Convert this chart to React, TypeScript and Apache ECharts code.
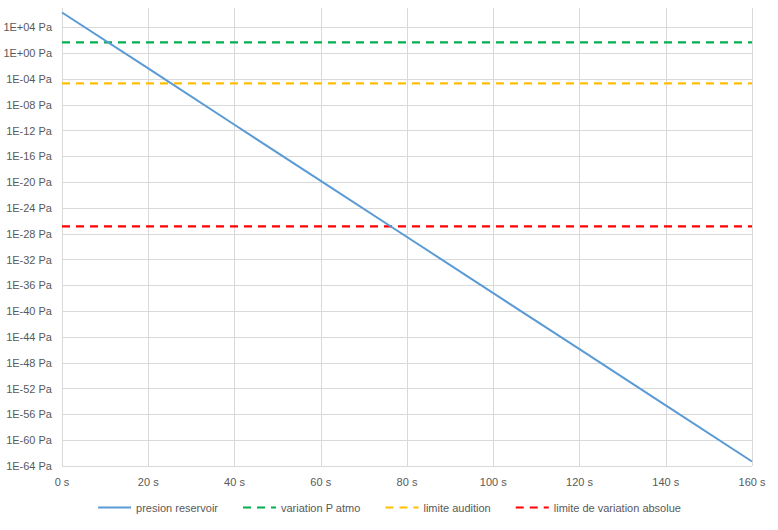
import React, { useEffect, useRef } from "react";
import * as echarts from "echarts";

const times = [0, 20, 40, 60, 80, 100, 120, 140, 160];
const reservoirPressure = [2.0e6, 4.5e-3, 7.9e-12, 1.6e-20, 3.2e-29, 6.3e-38, 1.3e-46, 2.5e-55, 5.0e-64];
const xRange = [0, 160];
const atmoVariation = 45;
const hearingLimit = 2e-5;
const absoluteLimit = 1.4e-27;
const seriesNames = ["presion reservoir", "variation P atmo", "limite audition", "limite de variation absolue"];
const colors = ["#5B9BD5", "#00B050", "#FFC000", "#FF0000"];

const FONT = "Liberation Sans";

function fmtY(e: number): string {
  const r = Math.round(e);
  if (r % 4 !== 0 || Math.abs(e - r) > 1e-6) return "";
  const sign = r < 0 ? "-" : "+";
  const a = Math.abs(r);
  return `1E${sign}${a < 10 ? "0" + a : a} Pa`;
}

export default function App() {
  const ref = useRef<HTMLDivElement>(null);
  useEffect(() => {
    if (!ref.current) return;
    const chart = echarts.init(ref.current, undefined, { renderer: "svg" });
    const hline = (name: string, val: number, color: string) => ({
      name,
      type: "line",
      data: xRange.map((x) => [x, Math.log10(val)]),
      symbol: "none",
      lineStyle: { color, width: 2.25, type: [8, 6] },
      itemStyle: { color },
      z: 3,
    });
    chart.setOption({
      animation: false,
      grid: { left: 62, right: 26, top: 8, bottom: 64 },
      legend: {
        bottom: 12,
        left: "center",
        itemWidth: 33,
        itemHeight: 10,
        itemGap: 24,
        itemStyle: { opacity: 0 },
        textStyle: { fontFamily: FONT, fontSize: 11, color: "#595959" },
        data: seriesNames,
      },
      xAxis: {
        type: "value",
        min: 0,
        max: 160,
        interval: 20,
        axisLine: { show: false },
        axisTick: { show: false },
        splitLine: { show: true, lineStyle: { color: "#D9D9D9", width: 1 } },
        axisLabel: {
          margin: 10,
          fontFamily: FONT,
          fontSize: 11,
          color: "#595959",
          formatter: (v: number) => `${v} s`,
        },
      },
      yAxis: {
        type: "value",
        min: -64,
        max: 7,
        interval: 4,
        axisLine: { show: false },
        axisTick: { show: false },
        splitLine: { show: true, showMaxLine: false, lineStyle: { color: "#D9D9D9", width: 1 } },
        axisLabel: {
          margin: 10,
          fontFamily: FONT,
          fontSize: 11,
          color: "#595959",
          showMaxLabel: false,
          formatter: fmtY,
        },
      },
      series: [
        {
          name: seriesNames[0],
          type: "line",
          data: times.map((t, i) => [t, Math.log10(reservoirPressure[i])]),
          symbol: "none",
          lineStyle: { color: colors[0], width: 2 },
          itemStyle: { color: colors[0] },
          z: 4,
        },
        hline(seriesNames[1], atmoVariation, colors[1]),
        hline(seriesNames[2], hearingLimit, colors[2]),
        hline(seriesNames[3], absoluteLimit, colors[3]),
      ],
    });
    return () => chart.dispose();
  }, []);
  return <div ref={ref} style={{ width: 778, height: 530, position: "absolute", left: 0, top: 0 }} />;
}
